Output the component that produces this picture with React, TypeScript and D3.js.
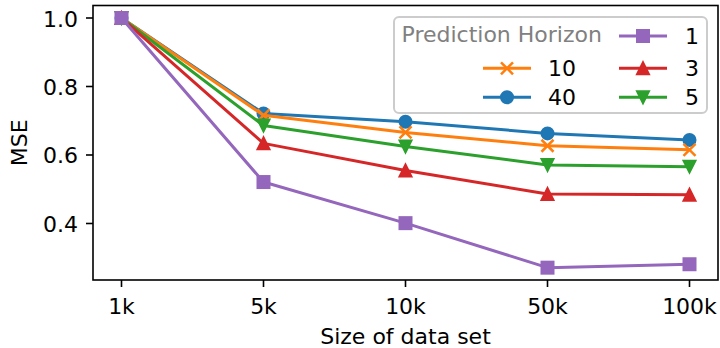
import React from "react";
import * as d3 from "d3";

// Size of data set (x categories)
const sizes = ["1k", "5k", "10k", "50k", "100k"];

// MSE per prediction horizon
const h1 = [1.0, 0.521, 0.401, 0.271, 0.281];
const h3 = [1.0, 0.634, 0.555, 0.486, 0.484];
const h5 = [1.0, 0.686, 0.625, 0.571, 0.566];
const h10 = [1.0, 0.716, 0.666, 0.627, 0.615];
const h40 = [1.0, 0.721, 0.697, 0.663, 0.644];

const yTicks = [0.4, 0.6, 0.8, 1.0];

// drawing order (last one on top)
const series = [
  { name: "40", values: h40, color: "#1f77b4", marker: "circle" },
  { name: "10", values: h10, color: "#ff7f0e", marker: "x" },
  { name: "5", values: h5, color: "#2ca02c", marker: "triangleDown" },
  { name: "3", values: h3, color: "#d62728", marker: "triangleUp" },
  { name: "1", values: h1, color: "#9467bd", marker: "square" },
];

const FONT = "DejaVu Sans, sans-serif";

const Marker = ({ type, x, y, color }) => {
  const s = 6;
  if (type === "circle")
    return <circle cx={x} cy={y} r={s} fill={color} stroke={color} strokeWidth={2} />;
  if (type === "square")
    return <rect x={x - s} y={y - s} width={2 * s} height={2 * s} fill={color} stroke={color} strokeWidth={2} />;
  if (type === "triangleUp")
    return (
      <path
        d={`M${x},${y - s}L${x - s},${y + s}L${x + s},${y + s}Z`}
        fill={color}
        stroke={color}
        strokeWidth={2}
        strokeLinejoin="miter"
      />
    );
  if (type === "triangleDown")
    return (
      <path
        d={`M${x},${y + s}L${x - s},${y - s}L${x + s},${y - s}Z`}
        fill={color}
        stroke={color}
        strokeWidth={2}
      />
    );
  // x marker
  return (
    <path
      d={`M${x - s},${y - s}L${x + s},${y + s}M${x - s},${y + s}L${x + s},${y - s}`}
      stroke={color}
      strokeWidth={2.5}
      fill="none"
    />
  );
};

export default function App() {
  const width = 720;
  const height = 348;
  const plot = { left: 93, right: 718, top: 5.5, bottom: 280 };

  const x = d3.scalePoint().domain(sizes).range([121.5, 689.5]);
  const y = d3.scaleLinear().domain([0.235, 1.0365]).range([plot.bottom, plot.top]);

  const line = d3
    .line<number>()
    .x((_, i) => x(sizes[i]))
    .y((d) => y(d));

  // legend layout: title in first slot of column 1
  const legendCols = [
    { lineX: 483, textX: 548, items: [null, "10", "40"] },
    { lineX: 619, textX: 685, items: ["1", "3", "5"] },
  ];
  const rowY = [36, 68.3, 97.3];

  return (
    <svg
      width={width}
      height={height}
      style={{ position: "absolute", left: 0, top: 0, background: "white" }}
      fontFamily={FONT}
    >
      {/* series */}
      {series.map((s) => (
        <g key={s.name}>
          <path d={line(s.values)} fill="none" stroke={s.color} strokeWidth={3} strokeLinejoin="round" />
          {s.values.map((v, i) => (
            <Marker key={i} type={s.marker} x={x(sizes[i])} y={y(v)} color={s.color} />
          ))}
        </g>
      ))}

      {/* spines */}
      <rect
        x={plot.left}
        y={plot.top}
        width={plot.right - plot.left}
        height={plot.bottom - plot.top}
        fill="none"
        stroke="black"
        strokeWidth={1.6}
      />

      {/* x axis ticks */}
      {sizes.map((d) => (
        <g key={d}>
          <line x1={x(d)} x2={x(d)} y1={plot.bottom} y2={plot.bottom + 7} stroke="black" strokeWidth={1.6} />
          <text x={x(d)} y={314} fontSize={22} textAnchor="middle" fill="black">
            {d}
          </text>
        </g>
      ))}

      {/* y axis ticks */}
      {yTicks.map((t) => (
        <g key={t}>
          <line x1={plot.left - 7} x2={plot.left} y1={y(t)} y2={y(t)} stroke="black" strokeWidth={1.6} />
          <text x={78} y={y(t) + 8.5} fontSize={22} textAnchor="end" fill="black">
            {t.toFixed(1)}
          </text>
        </g>
      ))}

      {/* axis labels */}
      <text x={(plot.left + plot.right) / 2} y={344} fontSize={22} textAnchor="middle" fill="black">
        Size of data set
      </text>
      <text
        transform={`translate(27, ${(plot.top + plot.bottom) / 2}) rotate(-90)`}
        fontSize={22}
        textAnchor="middle"
        fill="black"
      >
        MSE
      </text>

      {/* legend */}
      <rect x={394} y={17} width={313} height={96} rx={5} fill="white" fillOpacity={0.8} stroke="#cccccc" strokeWidth={2} />
      <text x={401.5} y={41.5} fontSize={22} fill="#808080">
        Prediction Horizon
      </text>
      {legendCols.map((col, ci) =>
        col.items.map((name, ri) => {
          if (!name) return null;
          const s = series.find((d) => d.name === name);
          const cy = rowY[ri];
          return (
            <g key={`${ci}-${ri}`}>
              <line x1={col.lineX} x2={col.lineX + 48} y1={cy} y2={cy} stroke={s.color} strokeWidth={3} />
              <Marker type={s.marker} x={col.lineX + 24} y={cy} color={s.color} />
              <text x={col.textX} y={cy + 8} fontSize={22} fill="black">
                {name}
              </text>
            </g>
          );
        })
      )}
    </svg>
  );
}
